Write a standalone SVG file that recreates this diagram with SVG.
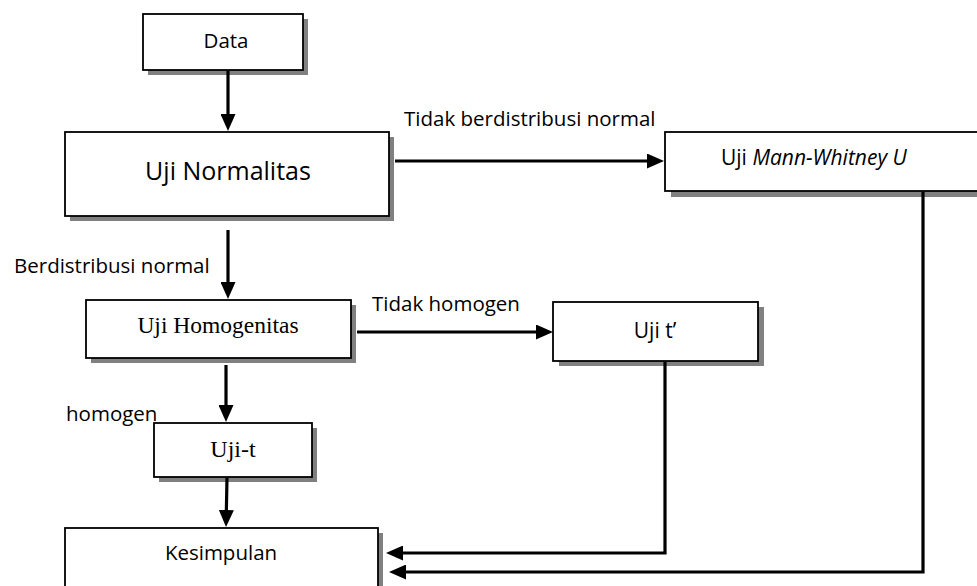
<svg xmlns="http://www.w3.org/2000/svg" width="977" height="586" viewBox="0 0 977 586">
<style>
.box{fill:#fff;stroke:#000;stroke-width:1.8}
.sh{fill:#808080}
.sans{font-family:"Open Sans","Liberation Sans",sans-serif;fill:#000}
.serif{font-family:"Liberation Serif","Times New Roman",serif;fill:#000}
.c{text-anchor:middle}
.ln{fill:none;stroke:#000;stroke-width:3.2}
</style>
<defs>
<marker id="ah" markerWidth="17" markerHeight="15" refX="8" refY="7.5" orient="auto" markerUnits="userSpaceOnUse">
<path d="M0,0 L17,7.5 L0,15 z" fill="#000"/>
</marker>
</defs>
<rect width="977" height="586" fill="#fff"/>
<g id="data">
<rect class="sh" x="148" y="19" width="160" height="56"/>
<rect class="box" x="143" y="14" width="160" height="56"/>
<text class="sans c" x="226" y="48" font-size="20.5">Data</text>
</g>
<g id="uji-normalitas">
<rect class="sh" x="70" y="137" width="324" height="84"/>
<rect class="box" x="65" y="132" width="324" height="84"/>
<text class="sans c" x="228" y="180" font-size="25">Uji Normalitas</text>
</g>
<g id="uji-mann-whitney">
<rect class="sh" x="671" y="137" width="320" height="60"/>
<rect class="box" x="665" y="132" width="320" height="59"/>
<text class="sans" x="721" y="165" font-size="21">Uji <tspan font-style="italic">Mann-Whitney U</tspan></text>
</g>
<g id="uji-homogenitas">
<rect class="sh" x="91" y="305" width="265" height="58"/>
<rect class="box" x="86" y="300" width="265" height="58"/>
<text class="serif c" x="218" y="333" font-size="23.5">Uji Homogenitas</text>
</g>
<g id="uji-t-aksen">
<rect class="sh" x="559" y="307" width="205" height="59"/>
<rect class="box" x="553" y="302" width="205" height="59"/>
<text class="sans c" x="655" y="338" font-size="21">Uji t’</text>
</g>
<g id="uji-t">
<rect class="sh" x="159" y="428" width="158" height="54"/>
<rect class="box" x="154" y="423" width="158" height="54"/>
<text class="serif c" x="233" y="457" font-size="24">Uji-t</text>
</g>
<g id="kesimpulan">
<rect class="sh" x="70" y="533" width="313" height="70"/>
<rect class="box" x="65" y="528" width="313" height="70"/>
<text class="sans c" x="221" y="560" font-size="20.5">Kesimpulan</text>
</g>
<g id="labels">
<text class="sans" x="404" y="126" font-size="20.5">Tidak berdistribusi normal</text>
<text class="sans" x="14" y="273" font-size="20.5">Berdistribusi normal</text>
<text class="sans" x="372" y="311" font-size="20.5">Tidak homogen</text>
<text class="sans" x="66" y="421" font-size="20.5">homogen</text>
</g>
<g id="connectors">
<path class="ln" d="M228,71 V122" marker-end="url(#ah)"/>
<path class="ln" d="M395,161 H655" marker-end="url(#ah)"/>
<path class="ln" d="M228,230 V290" marker-end="url(#ah)"/>
<path class="ln" d="M357,332 H544" marker-end="url(#ah)"/>
<path class="ln" d="M226,365 V413" marker-end="url(#ah)"/>
<path class="ln" d="M227,478 L226.2,518" marker-end="url(#ah)"/>
<path class="ln" d="M665,362 V553 H395" marker-end="url(#ah)"/>
<path class="ln" d="M923,192 V572 H398" marker-end="url(#ah)"/>
</g>
</svg>
